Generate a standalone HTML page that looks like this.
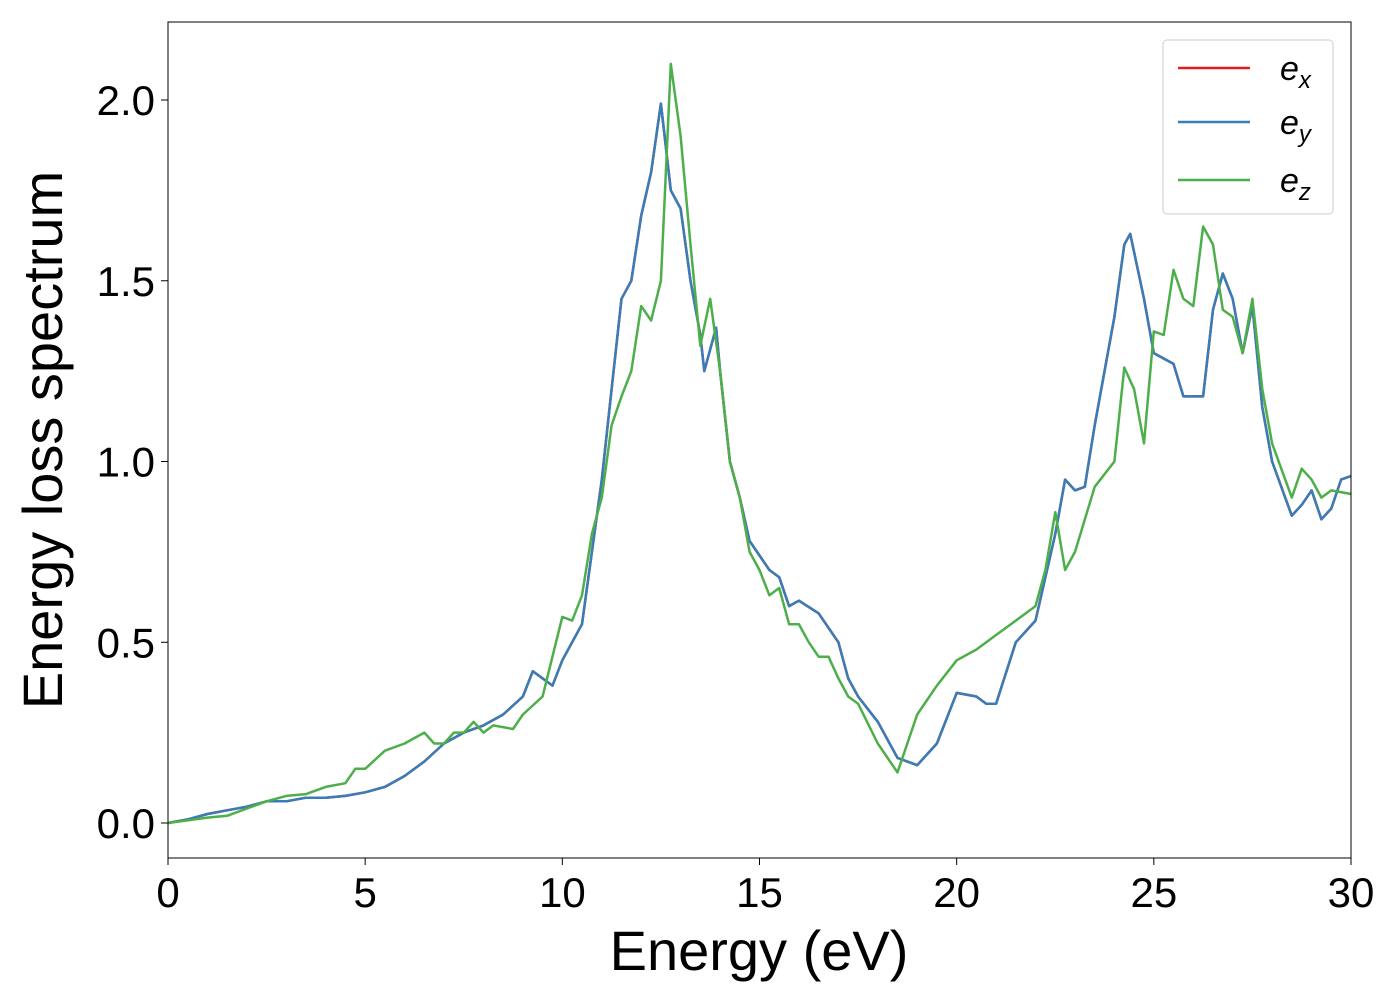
<!DOCTYPE html>
<html><head><meta charset="utf-8"><style>
body{margin:0;background:#fff}
svg text{font-family:"Liberation Sans","DejaVu Sans",sans-serif;fill:#000}
</style></head><body>
<svg id="chart" width="1400" height="1000" xmlns="http://www.w3.org/2000/svg">
<rect width="1400" height="1000" fill="#fff"/>
<g id="series"></g>
<rect x="168" y="22" width="1183" height="836" fill="none" stroke="#000" stroke-width="1"/>
<g id="ticks"></g>
<text x="759" y="970" font-size="56" text-anchor="middle">Energy (eV)</text>
<text transform="translate(62,440) rotate(-90)" font-size="56" text-anchor="middle">Energy loss spectrum</text>
<g>
<rect x="1163" y="40" width="170" height="174" rx="4" fill="#fff" stroke="#ccc"/>
<line x1="1178" y1="68" x2="1250" y2="68" stroke="#e41a1c" stroke-width="2.5"/>
<text x="1280" y="80" font-size="34" font-style="italic">e<tspan font-size="24" dy="8">x</tspan></text>
<line x1="1178" y1="122" x2="1250" y2="122" stroke="#377eb8" stroke-width="2.5"/>
<text x="1280" y="134" font-size="34" font-style="italic">e<tspan font-size="24" dy="8">y</tspan></text>
<line x1="1178" y1="180" x2="1250" y2="180" stroke="#4daf4a" stroke-width="2.5"/>
<text x="1280" y="192" font-size="34" font-style="italic">e<tspan font-size="24" dy="8">z</tspan></text>
</g>
</svg>
<script>
const xTicks=[0,5,10,15,20,25,30];
const yTicks=[0.0,0.5,1.0,1.5,2.0];
const blueX=[0,0.5,1,1.5,2,2.5,3,3.5,4,4.5,5,5.5,6,6.5,7,7.5,8,8.5,9,9.25,9.5,9.75,10,10.5,10.75,11,11.25,11.5,11.75,12,12.25,12.5,12.75,13,13.25,13.5,13.6,13.9,14,14.25,14.5,14.75,15,15.25,15.5,15.75,16,16.5,17,17.25,17.5,18,18.5,19,19.5,20,20.5,20.75,21,21.5,22,22.5,22.75,23,23.25,23.5,24,24.25,24.4,24.75,25,25.5,25.75,26.25,26.5,26.75,27,27.25,27.5,27.75,28,28.5,28.75,29,29.25,29.5,29.75,30];
const blueY=[0,0.01,0.025,0.035,0.045,0.06,0.06,0.07,0.07,0.075,0.085,0.1,0.13,0.17,0.22,0.25,0.27,0.3,0.35,0.42,0.4,0.38,0.45,0.55,0.75,0.95,1.2,1.45,1.5,1.68,1.8,1.99,1.75,1.7,1.5,1.35,1.25,1.37,1.25,1.0,0.9,0.78,0.74,0.7,0.68,0.6,0.615,0.58,0.5,0.4,0.35,0.28,0.18,0.16,0.22,0.36,0.35,0.33,0.33,0.5,0.56,0.8,0.95,0.92,0.93,1.1,1.4,1.6,1.63,1.45,1.3,1.27,1.18,1.18,1.42,1.52,1.45,1.3,1.43,1.15,1.0,0.85,0.88,0.92,0.84,0.87,0.95,0.96];
const greenX=[0,1,1.5,2,2.5,3,3.5,4,4.5,4.75,5,5.5,6,6.5,6.75,7,7.25,7.5,7.75,8,8.25,8.75,9,9.5,10,10.25,10.5,10.75,11,11.25,11.5,11.75,12,12.25,12.5,12.75,13,13.25,13.5,13.75,14,14.25,14.5,14.75,15,15.25,15.5,15.75,16,16.25,16.5,16.75,17,17.25,17.5,18,18.5,19,19.5,20,20.5,21,21.5,22,22.25,22.5,22.75,23,23.5,24,24.25,24.5,24.75,25,25.25,25.5,25.75,26,26.25,26.5,26.75,27,27.25,27.5,27.75,28,28.5,28.75,29,29.25,29.5,30];
const greenY=[0,0.015,0.02,0.04,0.06,0.075,0.08,0.1,0.11,0.15,0.15,0.2,0.22,0.25,0.22,0.22,0.25,0.25,0.28,0.25,0.27,0.26,0.3,0.35,0.57,0.56,0.63,0.8,0.9,1.1,1.18,1.25,1.43,1.39,1.5,2.1,1.9,1.6,1.32,1.45,1.25,1.0,0.9,0.75,0.7,0.63,0.65,0.55,0.55,0.5,0.46,0.46,0.4,0.35,0.33,0.22,0.14,0.3,0.38,0.45,0.48,0.52,0.56,0.6,0.7,0.86,0.7,0.75,0.93,1.0,1.26,1.2,1.05,1.36,1.35,1.53,1.45,1.43,1.65,1.6,1.42,1.4,1.3,1.45,1.2,1.05,0.9,0.98,0.95,0.9,0.92,0.91];
const X=v=>168+v*(1183/30);
const Y=v=>823-v*361.5;
const NS="http://www.w3.org/2000/svg";
const g=document.getElementById('series');
function draw(xs,ys,color,name){
  const p=document.createElementNS(NS,'path');
  
  
  p.setAttribute('d',xs.map((x,i)=>(i?'L':'M')+X(x).toFixed(1)+','+Y(ys[i]).toFixed(1)).join(''));
  p.setAttribute('fill','none');p.setAttribute('stroke',color);p.setAttribute('stroke-width','2.5');
  p.setAttribute('stroke-linejoin','round');
  g.appendChild(p);
}
draw(blueX,blueY,'#e41a1c','series-ex');
draw(blueX,blueY,'#377eb8','series-ey');
draw(greenX,greenY,'#4daf4a','series-ez');
const t=document.getElementById('ticks');
xTicks.forEach(v=>{
  const l=document.createElementNS(NS,'line');
  
  
  l.setAttribute('x1',X(v));l.setAttribute('x2',X(v));l.setAttribute('y1',858);l.setAttribute('y2',865);l.setAttribute('stroke','#000');
  t.appendChild(l);
  const s=document.createElementNS(NS,'text');
  
  
  s.setAttribute('x',X(v));s.setAttribute('y',907);s.setAttribute('font-size','42');s.setAttribute('text-anchor','middle');
  s.textContent=v;t.appendChild(s);
});
yTicks.forEach(v=>{
  const l=document.createElementNS(NS,'line');
  
  
  l.setAttribute('x1',161);l.setAttribute('x2',168);l.setAttribute('y1',Y(v));l.setAttribute('y2',Y(v));l.setAttribute('stroke','#000');
  t.appendChild(l);
  const s=document.createElementNS(NS,'text');
  
  
  s.setAttribute('x',155);s.setAttribute('y',Y(v)+15);s.setAttribute('font-size','42');s.setAttribute('text-anchor','end');
  s.textContent=v.toFixed(1);t.appendChild(s);
});
</script>
</body></html>
